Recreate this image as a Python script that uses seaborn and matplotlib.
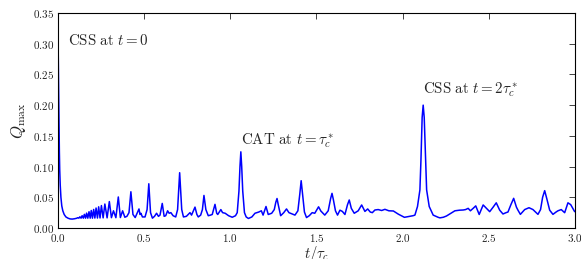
import numpy as np
import pandas as pd
import matplotlib
matplotlib.use('Agg')
import matplotlib.pyplot as plt
from matplotlib.ticker import FuncFormatter, MultipleLocator
import seaborn as sns

# values
t_vals = [0.000, 0.002, 0.004, 0.006, 0.008, 0.010, 0.013, 0.017, 0.022, 0.028,
          0.036, 0.046, 0.058, 0.070, 0.082, 0.095, 0.108,
          0.115, 0.121, 0.127, 0.134, 0.140, 0.147, 0.153, 0.160, 0.166, 0.173,
          0.180, 0.187, 0.193, 0.200, 0.207, 0.214, 0.221, 0.229, 0.236, 0.244,
          0.252, 0.262, 0.272, 0.285, 0.298, 0.310, 0.322, 0.336, 0.350, 0.362,
          0.375, 0.388, 0.400, 0.412, 0.423, 0.435, 0.448, 0.470, 0.476, 0.481,
          0.490, 0.505, 0.517, 0.527, 0.537, 0.548, 0.560, 0.572, 0.583, 0.592,
          0.605, 0.616, 0.625, 0.636, 0.645, 0.655, 0.668, 0.683, 0.694, 0.700,
          0.706, 0.712, 0.718, 0.728, 0.745, 0.766, 0.775, 0.795, 0.806, 0.814,
          0.828, 0.838, 0.847, 0.858, 0.872, 0.885, 0.895, 0.911, 0.921, 0.927,
          0.945, 0.955, 0.970, 0.990, 1.011, 1.030, 1.040, 1.050, 1.056, 1.061,
          1.066, 1.072, 1.082, 1.092, 1.105, 1.125, 1.143, 1.165, 1.180, 1.190,
          1.207, 1.220, 1.240, 1.255, 1.264, 1.271, 1.278, 1.292, 1.310, 1.326,
          1.340, 1.358, 1.375, 1.392, 1.403, 1.411, 1.419, 1.430, 1.442, 1.458,
          1.475, 1.490, 1.512, 1.525, 1.548, 1.568, 1.582, 1.590, 1.598, 1.610,
          1.622, 1.636, 1.650, 1.665, 1.680, 1.690, 1.702, 1.719, 1.742, 1.762,
          1.781, 1.797, 1.812, 1.824, 1.839, 1.858, 1.878, 1.897, 1.920, 1.946,
          1.975, 2.010, 2.043, 2.060, 2.071, 2.086, 2.100, 2.106, 2.113, 2.119,
          2.125, 2.133, 2.139, 2.154, 2.177, 2.206, 2.216, 2.236, 2.254, 2.280,
          2.303, 2.330, 2.351, 2.365, 2.380, 2.393, 2.409, 2.424, 2.444, 2.467,
          2.490, 2.505, 2.525, 2.543, 2.563, 2.582, 2.600, 2.611, 2.628, 2.644,
          2.660, 2.669, 2.683, 2.708, 2.733, 2.756, 2.785, 2.800, 2.812, 2.824,
          2.836, 2.853, 2.872, 2.890, 2.901, 2.920, 2.940, 2.959, 2.975, 2.998]

q_max = [0.320, 0.275, 0.220, 0.170, 0.125, 0.095, 0.070, 0.050, 0.036, 0.028,
         0.022, 0.018, 0.0160, 0.0148, 0.0145, 0.0150, 0.0158,
         0.0168, 0.0160, 0.0182, 0.0160, 0.0200, 0.0160, 0.0222, 0.0160, 0.0242, 0.0160,
         0.0265, 0.0160, 0.0285, 0.0160, 0.0302, 0.0162, 0.0325, 0.0162, 0.0345, 0.0163,
         0.0365, 0.0165, 0.0390, 0.0165, 0.0430, 0.0168, 0.0280, 0.0168, 0.0505, 0.0170,
         0.0280, 0.0175, 0.0190, 0.0250, 0.0590, 0.0220, 0.0170, 0.0310, 0.0220, 0.0240,
         0.0180, 0.0180, 0.0300, 0.0720, 0.0250, 0.0160, 0.0190, 0.0240, 0.0190, 0.0210,
         0.0400, 0.0190, 0.0200, 0.0280, 0.0240, 0.0250, 0.0200, 0.0180, 0.0300, 0.0600,
         0.0900, 0.0600, 0.0300, 0.0180, 0.0190, 0.0250, 0.0210, 0.0340, 0.0220, 0.0180,
         0.0210, 0.0300, 0.0530, 0.0300, 0.0200, 0.0210, 0.0220, 0.0385, 0.0240, 0.0220,
         0.0300, 0.0250, 0.0240, 0.0200, 0.0175, 0.0200, 0.0250, 0.0600, 0.1000, 0.1240,
         0.1000, 0.0600, 0.0250, 0.0180, 0.0155, 0.0180, 0.0240, 0.0260, 0.0280, 0.0210,
         0.0350, 0.0220, 0.0240, 0.0300, 0.0420, 0.0480, 0.0380, 0.0200, 0.0250, 0.0310,
         0.0250, 0.0230, 0.0210, 0.0280, 0.0550, 0.0770, 0.0550, 0.0260, 0.0170, 0.0200,
         0.0250, 0.0240, 0.0345, 0.0277, 0.0210, 0.0280, 0.0480, 0.0564, 0.0460, 0.0280,
         0.0210, 0.0290, 0.0270, 0.0220, 0.0380, 0.0456, 0.0320, 0.0240, 0.0280, 0.0375,
         0.0270, 0.0310, 0.0260, 0.0250, 0.0293, 0.0300, 0.0285, 0.0304, 0.0280, 0.0277,
         0.0225, 0.0174, 0.0190, 0.0200, 0.0210, 0.0350, 0.0620, 0.1100, 0.1800, 0.2000,
         0.1800, 0.1100, 0.0620, 0.0350, 0.0210, 0.0174, 0.0165, 0.0175, 0.0195, 0.0240,
         0.0280, 0.0290, 0.0293, 0.0300, 0.0320, 0.0280, 0.0320, 0.0360, 0.0220, 0.0375,
         0.0310, 0.0266, 0.0340, 0.0410, 0.0290, 0.0228, 0.0250, 0.0260, 0.0380, 0.0483,
         0.0340, 0.0290, 0.0222, 0.0300, 0.0330, 0.0300, 0.0222, 0.0300, 0.0500, 0.0608,
         0.0480, 0.0290, 0.0222, 0.0260, 0.0280, 0.0300, 0.0249, 0.0410, 0.0380, 0.0266]

x_ticks = [0.0, 0.5, 1.0, 1.5, 2.0, 2.5, 3.0]
y_ticks = [0.00, 0.05, 0.10, 0.15, 0.20, 0.25, 0.30, 0.35]

df = pd.DataFrame({'t': t_vals, 'Q': q_max})

sns.set_style('white')
plt.rcParams['mathtext.fontset'] = 'cm'
plt.rcParams['font.family'] = ['DejaVu Serif']
plt.rcParams['xtick.direction'] = 'in'
plt.rcParams['ytick.direction'] = 'in'

fig = plt.figure(figsize=(5.81, 2.59), dpi=100)
ax = fig.add_axes([0.0998, 0.1197, 0.8899, 0.8301])

sns.lineplot(data=df, x='t', y='Q', color='#0000ff', lw=1.1, estimator=None,
             sort=False, ax=ax)

ax.set_xlim(0, 3.0)
ax.set_ylim(0, 0.35)
ax.set_xticks(x_ticks)
ax.set_yticks(y_ticks)
ax.xaxis.set_major_formatter(FuncFormatter(lambda v, p: r'$%.1f$' % v))
ax.yaxis.set_major_formatter(FuncFormatter(lambda v, p: r'$%.2f$' % v))
ax.tick_params(axis='both', which='major', labelsize=8, length=4, width=0.6,
               top=True, right=True, pad=3, colors='#222222')
for s in ax.spines.values():
    s.set_linewidth(0.8)
    s.set_color('black')

ax.set_xlabel(r'$t/\tau_c$', fontsize=10.5, labelpad=0)
ax.set_ylabel(r'$Q_{\rm max}$', fontsize=12, labelpad=3)

ax.text(0.056, 0.306, r'$\mathrm{CSS\ at\ }t=0$', fontsize=10.8, va='center', ha='left')
ax.text(1.06, 0.143, r'$\mathrm{CAT\ at\ }t=\tau_c^*$', fontsize=10.8, va='center', ha='left')
ax.text(2.12, 0.225, r'$\mathrm{CSS\ at\ }t=2\tau_c^*$', fontsize=10.8, va='center', ha='left')

fig.savefig('out.png', dpi=100)
